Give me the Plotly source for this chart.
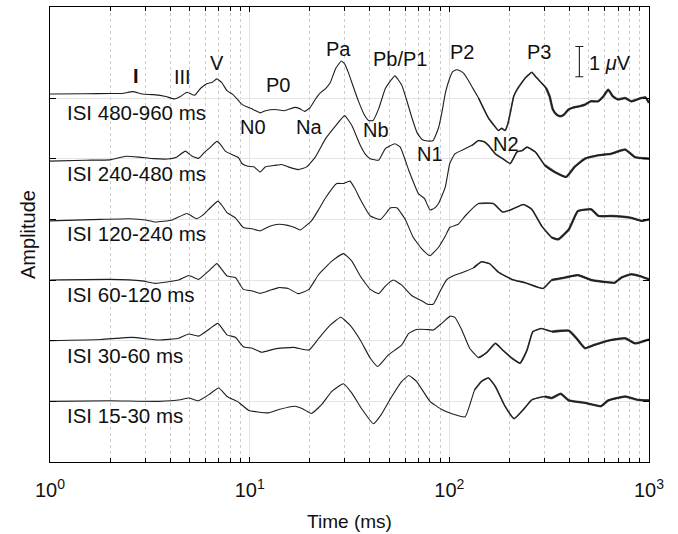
import numpy as np
import plotly.graph_objects as go

# ---------------- data ----------------
labels = ["ISI 480-960 ms", "ISI 240-480 ms", "ISI 120-240 ms",
          "ISI 60-120 ms", "ISI 30-60 ms", "ISI 15-30 ms"]
offsets = [10, 8, 6, 4, 2, 0]  # µV baseline of each trace

t1 = [1, 1.5, 2, 2.3, 2.6, 2.9, 3.3, 3.8, 4.2, 4.5, 4.85, 5.3, 5.7, 6.1, 6.5, 6.85, 7.25, 7.7, 8.2, 8.7,
      9.2, 9.6, 10.2, 11.3, 12, 13.4, 14.9, 16.8, 17.8, 18.8, 20, 21.3, 22.5, 24, 25.3, 27, 28.8, 30,
      31.3, 33, 35.1, 37.5, 39.4, 41.5, 44.3, 47.8, 50.5, 53.4, 57.8, 61, 65, 69, 73, 78, 83, 88.3, 92,
      95.5, 100.5, 104, 108.8, 113, 117.8, 124, 129.6, 140, 148, 157, 166, 176, 183, 190, 196, 202,
      210, 218, 228, 240, 250, 259, 270, 290, 305, 318, 330, 345, 360, 375, 395, 420, 450, 478, 510,
      556, 590, 625, 660, 700, 760, 815, 870, 918, 960, 1000]
v1 = [0.13, 0.14, 0.15, 0.15, 0.21, 0.13, 0.11, 0.05, -0.03, 0.05, 0.19, 0.09, 0.33, 0.47, 0.52, 0.63,
      0.51, 0.24, 0.13, -0.05, -0.22, -0.28, -0.35, -0.49, -0.42, -0.38, -0.42, -0.31, -0.35, -0.44,
      -0.33, -0.05, 0.16, 0.31, 0.50, 0.98, 1.22, 1.11, 0.82, 0.38, -0.11, -0.55, -0.74, -0.74, -0.35,
      0.31, 0.55, 0.73, 0.42, -0.05, -0.66, -1.15, -1.37, -1.42, -1.40, -0.98, -0.44, 0.16, 0.66,
      0.87, 0.93, 0.90, 0.82, 0.60, 0.38, 0.0, -0.33, -0.66, -0.87, -1.07, -1.0, -1.07, -0.87, -0.49,
      0.05, 0.27, 0.46, 0.66, 0.77, 0.85, 0.71, 0.49, 0.33, 0.05, -0.38, -0.55, -0.60, -0.55, -0.38,
      -0.31, -0.27, -0.22, -0.11, -0.11, 0.05, 0.27, 0.05, -0.05, 0.0, -0.11, -0.05, 0.0, 0.02, -0.16]

t2 = [1, 1.5, 2, 2.4, 2.8, 3.3, 3.9, 4.3, 4.76, 5.15, 5.55, 5.9, 6.24, 6.85, 7.2, 7.55, 8.32, 8.8,
      9.14, 9.8, 10.5, 11.3, 12, 13.4, 14.5, 15.6, 17.5, 19.3, 21.3, 24, 27, 29.9, 32.5, 35.8, 38,
      40.2, 44.3, 47.8, 53.4, 56.8, 62.6, 70, 75, 80, 84, 88.3, 95.5, 100.5, 106.6, 120, 130, 140, 150,
      157, 170, 185, 202, 218, 232, 245, 270, 301, 337, 385, 424, 478, 556, 645, 760, 850, 1000]
v2 = [-0.08, -0.05, -0.04, 0.08, 0.05, 0.0, -0.01, 0.05, 0.25, 0.08, 0.01, 0.19, 0.33, 0.57, 0.44,
      0.25, 0.11, 0.03, -0.16, -0.25, -0.27, -0.44, -0.27, -0.22, -0.19, -0.27, -0.36, -0.27, 0.05,
      0.66, 1.09, 1.42, 1.09, 0.44, 0.14, 0.0, -0.05, 0.33, 0.49, 0.38, -0.38, -1.15, -1.31, -1.69,
      -1.64, -1.48, -0.93, -0.16, 0.16, 0.33, 0.44, 0.60, 0.55, 0.44, 0.16, 0.0, -0.16, 0.22, 0.27,
      0.38, 0.22, -0.22, -0.44, -0.60, -0.27, 0.0, 0.11, 0.16, 0.30, 0.05, 0.0]

t3 = [1, 1.8, 2.5, 3.0, 3.37, 4.1, 4.85, 5.4, 5.8, 6.24, 6.93, 7.3, 7.7, 8.48, 9.3, 10.3, 11.3, 12.7,
      14, 15.5, 16.8, 17.9, 20.4, 22.2, 24, 27.3, 29.5, 31.8, 33.5, 35.8, 40.2, 45.3, 50.8, 54.6, 60.1,
      66, 73, 80, 88.3, 95.5, 100.5, 110.9, 120, 140, 166, 185, 206, 235, 259, 290, 326, 351, 397, 440,
      513, 560, 645, 815, 918, 1000]
v3 = [-0.05, 0.0, 0.02, -0.02, -0.09, -0.02, 0.19, 0.02, 0.13, 0.33, 0.60, 0.44, 0.22, 0.05, -0.27,
      -0.31, -0.38, -0.22, -0.16, -0.20, -0.27, -0.35, -0.05, 0.33, 0.71, 1.18, 1.18, 1.26, 1.04, 0.66,
      0.11, 0.0, 0.38, 0.38, 0.0, -0.60, -0.98, -1.20, -0.92, -0.55, -0.27, -0.16, 0.11, 0.52, 0.52,
      0.24, 0.33, 0.49, 0.33, -0.22, -0.60, -0.66, -0.33, 0.27, 0.33, 0.11, 0.11, 0.05, -0.05, 0.0]

t4 = [1, 2, 2.89, 3.37, 4.41, 4.95, 5.55, 6.24, 6.85, 7.25, 7.7, 8.48, 9.3, 10.3, 11.3, 12.5, 14, 15.6,
      17.5, 19.8, 22.2, 25.8, 29.5, 32.5, 35.8, 40.2, 44.3, 47.8, 52.4, 57.8, 65, 73, 78, 83, 90, 96.8,
      104, 115.5, 132, 145, 159, 176, 206, 240, 295, 326, 380, 440, 513, 575, 673, 728, 815, 900, 1000]
v4 = [0.0, 0.02, -0.03, -0.11, 0.0, 0.15, 0.02, 0.30, 0.54, 0.35, 0.13, 0.08, -0.31, -0.36, -0.44,
      -0.35, -0.25, -0.28, -0.45, -0.31, 0.19, 0.62, 0.87, 0.62, 0.13, -0.31, -0.45, -0.20, 0.0, -0.17,
      -0.52, -0.69, -0.80, -0.80, -0.36, 0.0, 0.13, 0.24, 0.40, 0.60, 0.54, 0.26, 0.02, -0.09, -0.28,
      0.0, 0.08, 0.16, 0.0, -0.05, -0.09, 0.08, 0.19, 0.13, 0.02]

t5 = [1, 1.8, 2.58, 3.5, 4.41, 4.95, 5.55, 6.24, 6.93, 7.7, 8.48, 9.3, 10.3, 11.5, 13.4, 16.6, 19.8,
      22.2, 25.3, 28.6, 31.8, 35.8, 40.2, 43.8, 49.5, 57.8, 62.6, 68.5, 76.6, 83, 91.6, 101, 106.6,
      115.5, 126.4, 140, 154, 170, 185, 206, 226, 245, 262, 290, 326, 397, 433, 478, 532, 625, 760,
      850, 1000]
v5 = [0.0, 0.04, 0.11, 0.02, 0.08, 0.22, 0.15, 0.37, 0.57, 0.19, 0.11, -0.20, -0.25, -0.38, -0.27,
      -0.22, -0.31, 0.08, 0.51, 0.77, 0.51, 0.02, -0.58, -0.85, -0.47, -0.14, 0.24, 0.37, 0.37, 0.35,
      0.57, 0.81, 0.77, 0.35, -0.25, -0.56, -0.39, -0.09, -0.31, -0.58, -0.74, -0.31, 0.30, 0.40, 0.30,
      0.33, 0.08, -0.25, -0.14, 0.0, 0.08, -0.09, 0.04]

t6 = [1, 2, 3.5, 4.5, 4.95, 5.55, 6.24, 7, 7.7, 8.66, 9.9, 11, 12.4, 14, 16.8, 18.5, 20.4, 22.9, 25.8,
      29.5, 32.5, 36.6, 41.7, 45.6, 51.5, 57.8, 62.6, 68.5, 80, 91.6, 104, 120, 134, 145, 157, 170,
      190, 211, 235, 259, 301, 326, 361, 397, 478, 575, 625, 760, 880, 1000]
v6 = [0.0, 0.02, 0.0, 0.05, 0.11, 0.02, 0.22, 0.44, 0.16, 0.0, -0.30, -0.35, -0.38, -0.27, -0.16,
      -0.25, -0.40, -0.11, 0.33, 0.58, 0.27, -0.27, -0.74, -0.44, 0.16, 0.66, 0.85, 0.66, 0.0, -0.27,
      -0.42, -0.51, 0.38, 0.66, 0.77, 0.49, -0.16, -0.57, -0.27, 0.05, 0.16, 0.11, 0.25, 0.03, -0.05,
      -0.16, 0.03, 0.16, 0.05, 0.03]

times = [t1, t2, t3, t4, t5, t6]
values = [v1, v2, v3, v4, v5, v6]

peak_labels = ["<b>I</b>", "III", "V", "P0", "Pa", "Pb/P1", "P2", "P3", "N0", "Na", "Nb", "N1", "N2"]
peak_t = [2.69, 4.6, 6.84, 13.8, 27.9, 56.6, 116, 280, 10.4, 19.8, 43.1, 80.3, 191.6]
peak_y = [10.74, 10.70, 11.14, 10.42, 11.60, 11.29, 11.51, 11.51, 9.06, 9.06, 8.94, 8.17, 8.50]

scalebar_t = 448
scalebar_lo, scalebar_hi = 10.7, 11.7

xtick_vals = [1, 10, 100, 1000]
xtick_text = ["10<sup>0</sup>", "10<sup>1</sup>", "10<sup>2</sup>", "10<sup>3</sup>"]
minor_vals = [m * 10 ** k for k in range(3) for m in range(2, 10)]

# ---------------- figure ----------------
FONT = "Liberation Sans, Arial, Helvetica, sans-serif"
LINE = "#1e1e1e"
fig = go.Figure()

for t, v, off in zip(times, values, offsets):
    t = np.array(t, float)
    y = np.array(v, float) + off
    fig.add_trace(go.Scatter(x=t, y=y, mode="lines",
                             line=dict(color=LINE, width=1.1, shape="spline", smoothing=0.4),
                             showlegend=False, hoverinfo="skip"))
    # the late part of each recording is noisy: drawn heavier
    for start, w in ((130, 1.6), (300, 2.4)):
        late = t >= start
        fig.add_trace(go.Scatter(x=t[late], y=y[late], mode="lines",
                                 line=dict(color=LINE, width=w, shape="spline", smoothing=0.4),
                                 opacity=0.75, showlegend=False, hoverinfo="skip"))

# scale bar (1 µV)
fig.add_trace(go.Scatter(x=[scalebar_t], y=[(scalebar_lo + scalebar_hi) / 2], mode="markers",
                         marker=dict(size=1, color="rgba(0,0,0,0)"),
                         error_y=dict(type="data", array=[(scalebar_hi - scalebar_lo) / 2],
                                      color=LINE, thickness=1.1, width=4),
                         showlegend=False, hoverinfo="skip"))

ann = []
for lab, off in zip(labels, offsets):
    ann.append(dict(x=np.log10(1.19), y=off - 0.48, text=lab, showarrow=False,
                    xanchor="left", yanchor="middle", font=dict(size=20.5, color="#111", family=FONT)))
for lab, tx, ty in zip(peak_labels, peak_t, peak_y):
    ann.append(dict(x=np.log10(tx), y=ty, text=lab, showarrow=False,
                    xanchor="center", yanchor="middle", font=dict(size=20, color="#111", family=FONT)))
ann.append(dict(x=np.log10(490), y=11.15, text="1 <i>\u03bc</i>V", showarrow=False,
                xanchor="left", yanchor="middle", font=dict(size=20, color="#111", family=FONT)))

fig.update_layout(
    width=678, height=534,
    margin=dict(l=50, r=29, t=7, b=72),
    paper_bgcolor="white", plot_bgcolor="white",
    font=dict(family=FONT, size=20, color="#111"),
    annotations=ann,
    showlegend=False,
)
fig.update_xaxes(
    type="log", range=[0, 3], automargin=False,
    tickmode="array", tickvals=xtick_vals, ticktext=xtick_text,
    ticks="inside", ticklen=5, tickcolor="#000", tickwidth=1,
    showline=True, linecolor="#000", linewidth=1, mirror="ticks",
    showgrid=True, gridcolor="#e4e4e4", gridwidth=1,
    minor=dict(tickmode="array", tickvals=minor_vals, ticks="inside", ticklen=4, tickcolor="#000",
               showgrid=True, gridcolor="#cccccc", griddash="dot", gridwidth=1),
    tickfont=dict(size=20, family=FONT, color="#111"),
    title=dict(text="Time (ms)", font=dict(size=19, family=FONT, color="#111"), standoff=14),
    ticklabelstandoff=10,
    zeroline=False,
)
fig.update_yaxes(
    range=[-2, 13], automargin=False, tickmode="array", tickvals=offsets, showticklabels=False,
    ticks="inside", ticklen=6, tickcolor="#000",
    showline=True, linecolor="#000", linewidth=1, mirror="ticks",
    showgrid=True, gridcolor="#e4e4e4", gridwidth=1, zeroline=False,
    title=dict(text="Amplitude", font=dict(size=20, family=FONT, color="#111"), standoff=8),
)

fig.write_html("out.html", config={"displayModeBar": False},
               post_script="document.body.style.margin='0px';document.body.style.padding='0px';")
